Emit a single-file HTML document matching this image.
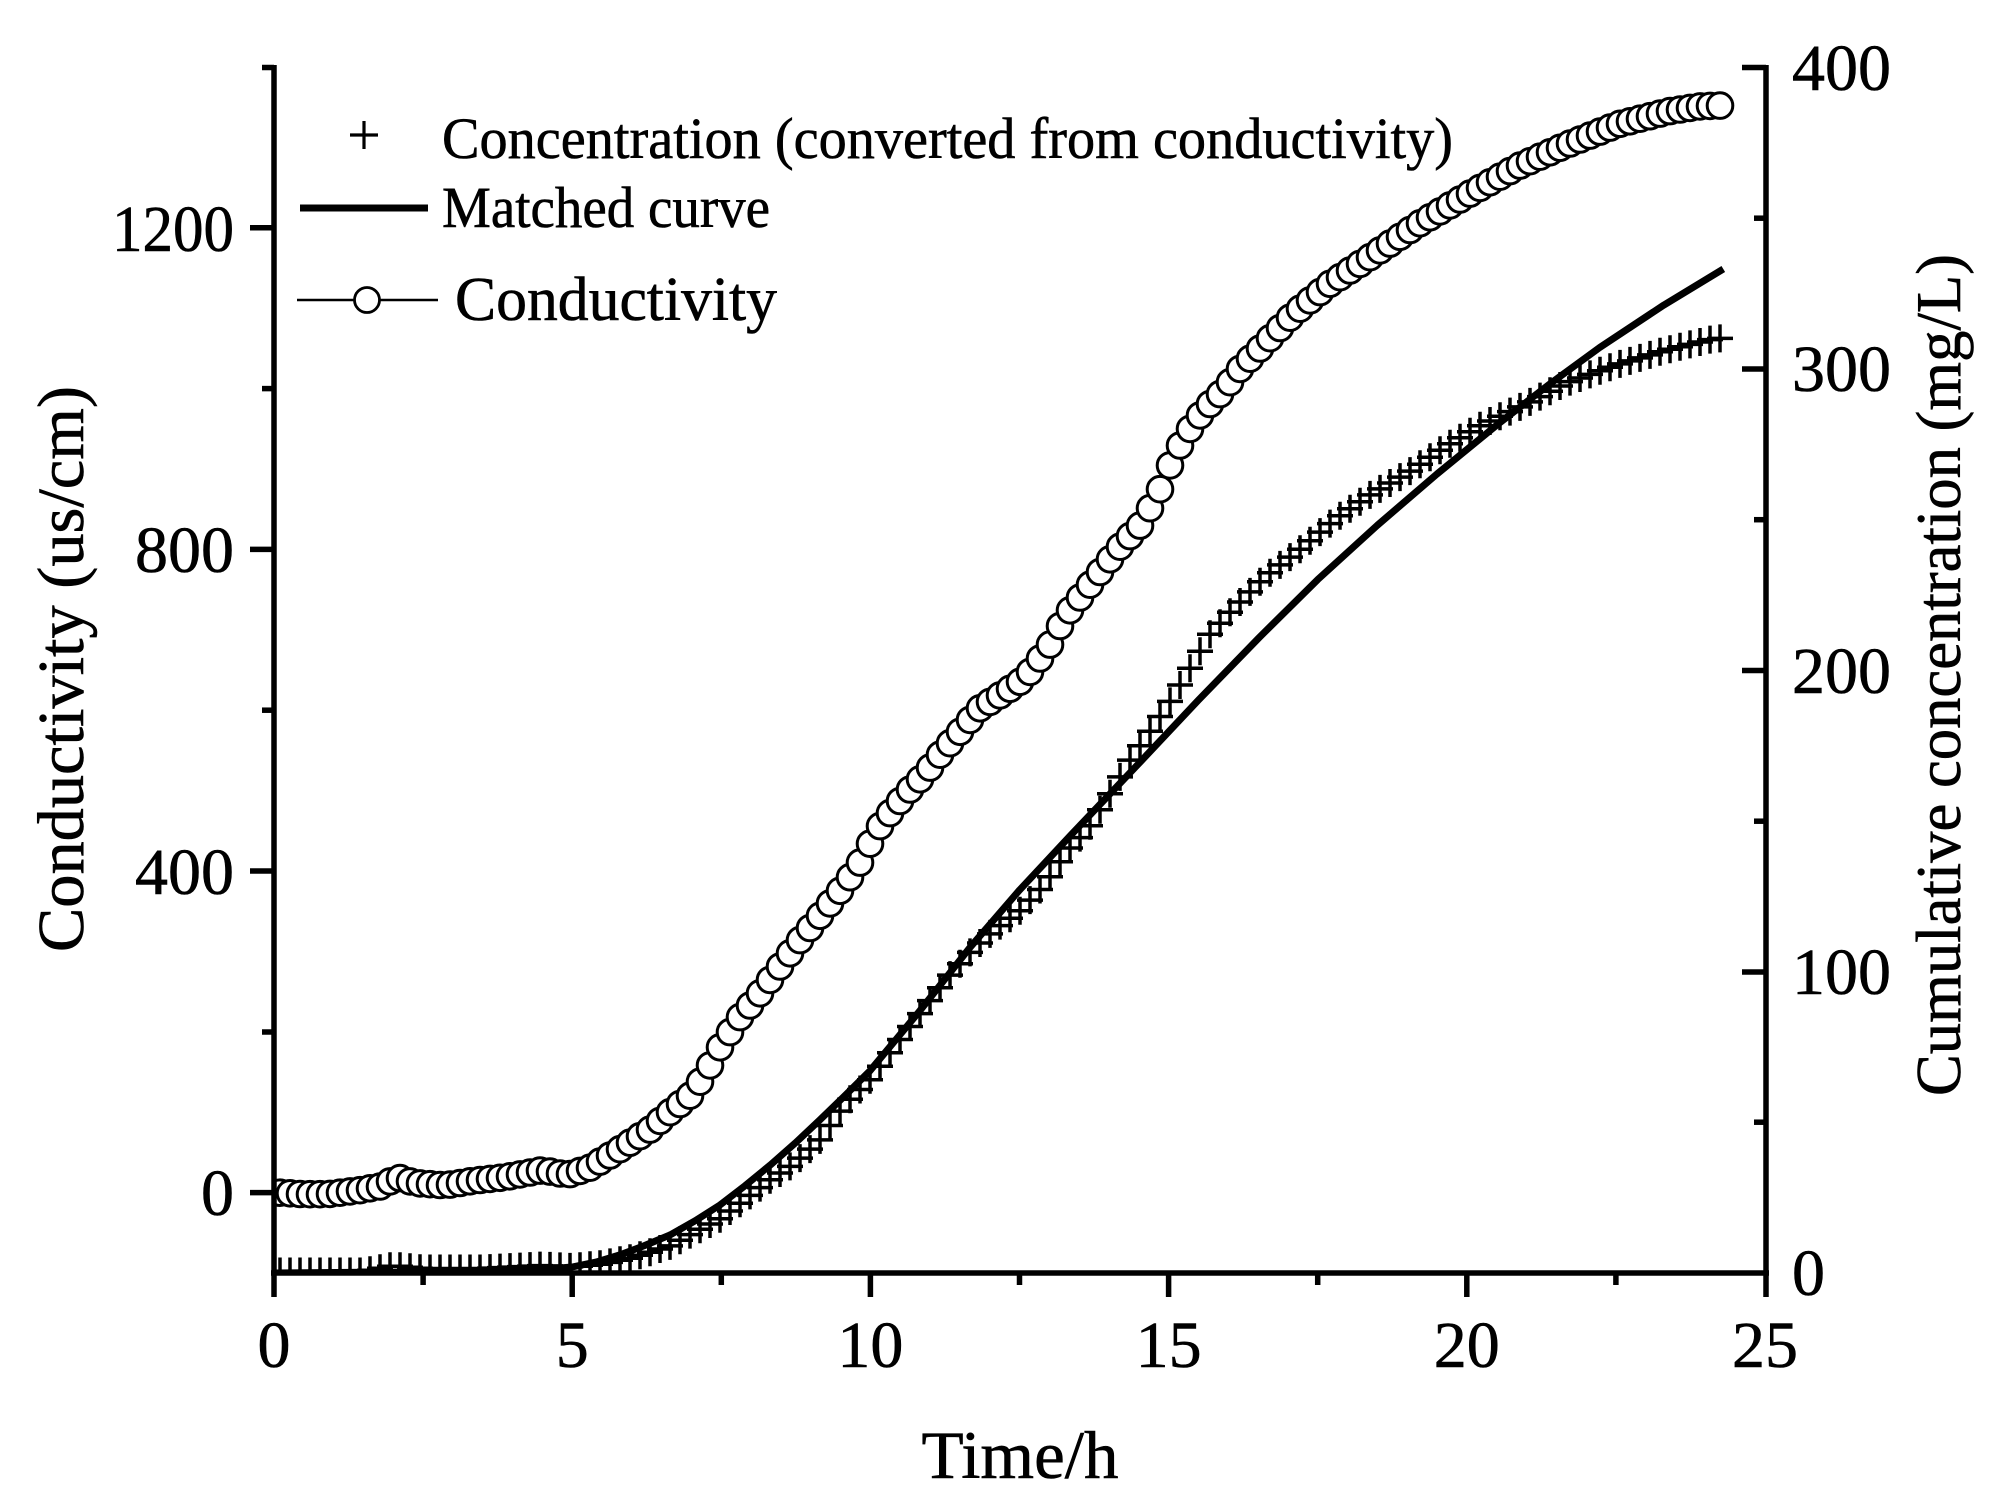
<!DOCTYPE html>
<html>
<head>
<meta charset="utf-8">
<style>
html,body{margin:0;padding:0;background:#fff;}
svg{display:block;}
text{font-family:"Liberation Serif","Times New Roman",serif;fill:#000;stroke:#000;stroke-width:0.6;}
</style>
</head>
<body>
<svg xmlns="http://www.w3.org/2000/svg" width="2001" height="1512" viewBox="0 0 2001 1512">
<rect x="0" y="0" width="2001" height="1512" fill="#fff"/>
<defs>
<clipPath id="plot"><rect x="274" y="67" width="1491" height="1206"/></clipPath>
</defs>

<g clip-path="url(#plot)">
<!-- crosses (right axis) -->
<path fill="none" stroke="#000" stroke-width="3.5" d="M267 1271.5h26m-13-14v28M277 1271.5h26m-13-14v28M287 1271.5h26m-13-14v28M297 1271.5h26m-13-14v28M307 1271.5h26m-13-14v28M317 1271.5h26m-13-14v28M327 1271.5h26m-13-14v28M337 1271.5h26m-13-14v28M347 1271.5h26m-13-14v28M357 1270.2h26m-13-14v28M367 1268.2h26m-13-14v28M377 1266.2h26m-13-14v28M387 1266.2h26m-13-14v28M397 1267.2h26m-13-14v28M407 1268.2h26m-13-14v28M417 1268.5h26m-13-14v28M427 1268.5h26m-13-14v28M437 1268.5h26m-13-14v28M447 1268.5h26m-13-14v28M457 1268.5h26m-13-14v28M467 1268.5h26m-13-14v28M477 1268.1h26m-13-14v28M487 1267.6h26m-13-14v28M497 1267.1h26m-13-14v28M507 1266.6h26m-13-14v28M517 1266.1h26m-13-14v28M527 1265.6h26m-13-14v28M537 1265.9h26m-13-14v28M547 1266.4h26m-13-14v28M557 1266.9h26m-13-14v28M567 1266.2h26m-13-14v28M577 1265.2h26m-13-14v28M587 1264.2h26m-13-14v28M597 1262.4h26m-13-14v28M607 1260.3h26m-13-14v28M617 1258.3h26m-13-14v28M627 1255.3h26m-13-14v28M637 1252.2h26m-13-14v28M647 1249.0h26m-13-14v28M657 1245.9h26m-13-14v28M667 1240.3h26m-13-14v28M677 1234.6h26m-13-14v28M687 1229.3h26m-13-14v28M697 1224.0h26m-13-14v28M707 1218.8h26m-13-14v28M717 1211.0h26m-13-14v28M727 1203.2h26m-13-14v28M737 1195.4h26m-13-14v28M747 1187.6h26m-13-14v28M757 1179.7h26m-13-14v28M767 1173.0h26m-13-14v28M777 1166.4h26m-13-14v28M787 1158.1h26m-13-14v28M797 1149.1h26m-13-14v28M807 1139.9h26m-13-14v28M817 1125.5h26m-13-14v28M827 1111.1h26m-13-14v28M837 1099.2h26m-13-14v28M847 1089.5h26m-13-14v28M857 1079.7h26m-13-14v28M867 1066.2h26m-13-14v28M877 1052.7h26m-13-14v28M887 1039.5h26m-13-14v28M897 1026.5h26m-13-14v28M907 1013.6h26m-13-14v28M917 1000.6h26m-13-14v28M927 987.7h26m-13-14v28M937 975.1h26m-13-14v28M947 963.8h26m-13-14v28M957 952.4h26m-13-14v28M967 943.0h26m-13-14v28M977 933.9h26m-13-14v28M987 925.6h26m-13-14v28M997 918.2h26m-13-14v28M1007 910.7h26m-13-14v28M1017 900.1h26m-13-14v28M1027 889.5h26m-13-14v28M1037 876.7h26m-13-14v28M1047 861.7h26m-13-14v28M1057 848.0h26m-13-14v28M1067 837.6h26m-13-14v28M1077 825.8h26m-13-14v28M1087 809.8h26m-13-14v28M1097 793.8h26m-13-14v28M1107 776.9h26m-13-14v28M1117 760.1h26m-13-14v28M1127 745.7h26m-13-14v28M1137 731.3h26m-13-14v28M1147 716.5h26m-13-14v28M1157 701.4h26m-13-14v28M1167 685.0h26m-13-14v28M1177 668.2h26m-13-14v28M1187 651.3h26m-13-14v28M1197 634.3h26m-13-14v28M1207 623.2h26m-13-14v28M1217 612.3h26m-13-14v28M1227 602.0h26m-13-14v28M1237 591.9h26m-13-14v28M1247 581.8h26m-13-14v28M1257 572.7h26m-13-14v28M1267 564.9h26m-13-14v28M1277 557.1h26m-13-14v28M1287 549.2h26m-13-14v28M1297 540.7h26m-13-14v28M1307 532.1h26m-13-14v28M1317 523.6h26m-13-14v28M1327 515.8h26m-13-14v28M1337 508.8h26m-13-14v28M1347 501.8h26m-13-14v28M1357 494.9h26m-13-14v28M1367 488.9h26m-13-14v28M1377 483.0h26m-13-14v28M1387 477.1h26m-13-14v28M1397 471.1h26m-13-14v28M1407 464.2h26m-13-14v28M1417 457.2h26m-13-14v28M1427 450.2h26m-13-14v28M1437 443.7h26m-13-14v28M1447 437.7h26m-13-14v28M1457 431.7h26m-13-14v28M1467 425.8h26m-13-14v28M1477 421.0h26m-13-14v28M1487 416.3h26m-13-14v28M1497 411.6h26m-13-14v28M1507 406.9h26m-13-14v28M1517 401.9h26m-13-14v28M1527 396.6h26m-13-14v28M1537 391.3h26m-13-14v28M1547 386.0h26m-13-14v28M1557 381.6h26m-13-14v28M1567 378.0h26m-13-14v28M1577 374.4h26m-13-14v28M1587 370.8h26m-13-14v28M1597 367.2h26m-13-14v28M1607 363.9h26m-13-14v28M1617 360.9h26m-13-14v28M1627 357.9h26m-13-14v28M1637 354.9h26m-13-14v28M1647 351.8h26m-13-14v28M1657 349.2h26m-13-14v28M1667 346.8h26m-13-14v28M1677 344.4h26m-13-14v28M1687 342.0h26m-13-14v28M1697 339.6h26m-13-14v28M1707 338.4h26m-13-14v28"/>

<!-- matched curve -->
<path fill="none" stroke="#000" stroke-width="7" stroke-linejoin="round" stroke-linecap="butt" d="M274 1273 L393.3 1272.1 L512.6 1270.6 L542.4 1269.4 L572.2 1267.0 L596.1 1262.1 L619.9 1254.9 L643.8 1245.9 L670.0 1235.0 L695.1 1220.8 L720.1 1204.9 L745.2 1185.6 L770.2 1165.1 L795.3 1143.0 L819.7 1120.1 L844.8 1095.7 L869.8 1071.0 L894.9 1040.8 L919.9 1010.7 L945.0 979.0 L970.0 947.4 L1019.5 890.1 L1070.2 835.8 L1138.8 763.5 L1198.4 700.1 L1259.8 636.9 L1317.7 579.6 L1377.3 525.3 L1437.0 474.0 L1499.6 422.8 L1550.3 383.6 L1599.8 347.4 L1663.6 305.2 L1723.3 269.0"/>

<!-- conductivity circles (left axis) -->
<g fill="#fff" stroke="#000" stroke-width="3">
<circle cx="280" cy="1192.7" r="12.8"/><circle cx="290" cy="1193.3" r="12.8"/><circle cx="300" cy="1194.0" r="12.8"/><circle cx="310" cy="1194.2" r="12.8"/><circle cx="320" cy="1194.2" r="12.8"/><circle cx="330" cy="1193.9" r="12.8"/><circle cx="340" cy="1192.7" r="12.8"/><circle cx="350" cy="1191.4" r="12.8"/><circle cx="360" cy="1190.2" r="12.8"/><circle cx="370" cy="1188.3" r="12.8"/>
<circle cx="380" cy="1186.5" r="12.8"/><circle cx="390" cy="1181.4" r="12.8"/><circle cx="400" cy="1178.1" r="12.8"/><circle cx="410" cy="1181.4" r="12.8"/><circle cx="420" cy="1183.4" r="12.8"/><circle cx="430" cy="1184.2" r="12.8"/><circle cx="440" cy="1185.0" r="12.8"/><circle cx="450" cy="1184.6" r="12.8"/><circle cx="460" cy="1183.0" r="12.8"/><circle cx="470" cy="1181.3" r="12.8"/>
<circle cx="480" cy="1180.0" r="12.8"/><circle cx="490" cy="1178.9" r="12.8"/><circle cx="500" cy="1177.8" r="12.8"/><circle cx="510" cy="1176.3" r="12.8"/><circle cx="520" cy="1174.4" r="12.8"/><circle cx="530" cy="1172.5" r="12.8"/><circle cx="540" cy="1170.6" r="12.8"/><circle cx="550" cy="1171.6" r="12.8"/><circle cx="560" cy="1173.5" r="12.8"/><circle cx="570" cy="1174.1" r="12.8"/>
<circle cx="580" cy="1170.9" r="12.8"/><circle cx="590" cy="1167.7" r="12.8"/><circle cx="600" cy="1161.6" r="12.8"/><circle cx="610" cy="1155.5" r="12.8"/><circle cx="620" cy="1149.2" r="12.8"/><circle cx="630" cy="1142.7" r="12.8"/><circle cx="640" cy="1136.2" r="12.8"/><circle cx="650" cy="1129.6" r="12.8"/><circle cx="660" cy="1120.9" r="12.8"/><circle cx="670" cy="1112.2" r="12.8"/>
<circle cx="680" cy="1104.0" r="12.8"/><circle cx="690" cy="1095.7" r="12.8"/><circle cx="700" cy="1081.7" r="12.8"/><circle cx="710" cy="1065.4" r="12.8"/><circle cx="720" cy="1047.3" r="12.8"/><circle cx="730" cy="1032.1" r="12.8"/><circle cx="740" cy="1017.1" r="12.8"/><circle cx="750" cy="1005.5" r="12.8"/><circle cx="760" cy="993.3" r="12.8"/><circle cx="770" cy="979.9" r="12.8"/>
<circle cx="780" cy="966.5" r="12.8"/><circle cx="790" cy="953.3" r="12.8"/><circle cx="800" cy="940.1" r="12.8"/><circle cx="810" cy="928.0" r="12.8"/><circle cx="820" cy="915.8" r="12.8"/><circle cx="830" cy="903.4" r="12.8"/><circle cx="840" cy="890.8" r="12.8"/><circle cx="850" cy="877.2" r="12.8"/><circle cx="860" cy="862.6" r="12.8"/><circle cx="870" cy="843.7" r="12.8"/>
<circle cx="880" cy="826.1" r="12.8"/><circle cx="890" cy="813.1" r="12.8"/><circle cx="900" cy="801.0" r="12.8"/><circle cx="910" cy="789.5" r="12.8"/><circle cx="920" cy="779.3" r="12.8"/><circle cx="930" cy="767.6" r="12.8"/><circle cx="940" cy="754.7" r="12.8"/><circle cx="950" cy="743.2" r="12.8"/><circle cx="960" cy="731.8" r="12.8"/><circle cx="970" cy="719.9" r="12.8"/>
<circle cx="980" cy="708.3" r="12.8"/><circle cx="990" cy="701.9" r="12.8"/><circle cx="1000" cy="695.4" r="12.8"/><circle cx="1010" cy="688.8" r="12.8"/><circle cx="1020" cy="681.8" r="12.8"/><circle cx="1030" cy="671.9" r="12.8"/><circle cx="1040" cy="658.5" r="12.8"/><circle cx="1050" cy="644.6" r="12.8"/><circle cx="1060" cy="626.0" r="12.8"/><circle cx="1070" cy="610.3" r="12.8"/>
<circle cx="1080" cy="597.5" r="12.8"/><circle cx="1090" cy="584.7" r="12.8"/><circle cx="1100" cy="572.0" r="12.8"/><circle cx="1110" cy="559.3" r="12.8"/><circle cx="1120" cy="546.7" r="12.8"/><circle cx="1130" cy="536.1" r="12.8"/><circle cx="1140" cy="525.6" r="12.8"/><circle cx="1150" cy="508.2" r="12.8"/><circle cx="1160" cy="489.2" r="12.8"/><circle cx="1170" cy="465.4" r="12.8"/>
<circle cx="1180" cy="445.5" r="12.8"/><circle cx="1190" cy="428.9" r="12.8"/><circle cx="1200" cy="415.4" r="12.8"/><circle cx="1210" cy="404.0" r="12.8"/><circle cx="1220" cy="394.1" r="12.8"/><circle cx="1230" cy="382.2" r="12.8"/><circle cx="1240" cy="368.9" r="12.8"/><circle cx="1250" cy="358.7" r="12.8"/><circle cx="1260" cy="348.5" r="12.8"/><circle cx="1270" cy="338.2" r="12.8"/>
<circle cx="1280" cy="328.0" r="12.8"/><circle cx="1290" cy="317.7" r="12.8"/><circle cx="1300" cy="308.7" r="12.8"/><circle cx="1310" cy="300.4" r="12.8"/><circle cx="1320" cy="292.1" r="12.8"/><circle cx="1330" cy="283.8" r="12.8"/><circle cx="1340" cy="277.2" r="12.8"/><circle cx="1350" cy="270.5" r="12.8"/><circle cx="1360" cy="263.9" r="12.8"/><circle cx="1370" cy="257.2" r="12.8"/>
<circle cx="1380" cy="250.4" r="12.8"/><circle cx="1390" cy="243.6" r="12.8"/><circle cx="1400" cy="236.8" r="12.8"/><circle cx="1410" cy="230.0" r="12.8"/><circle cx="1420" cy="223.3" r="12.8"/><circle cx="1430" cy="217.3" r="12.8"/><circle cx="1440" cy="211.4" r="12.8"/><circle cx="1450" cy="205.4" r="12.8"/><circle cx="1460" cy="199.5" r="12.8"/><circle cx="1470" cy="193.6" r="12.8"/>
<circle cx="1480" cy="187.9" r="12.8"/><circle cx="1490" cy="182.3" r="12.8"/><circle cx="1500" cy="176.7" r="12.8"/><circle cx="1510" cy="171.1" r="12.8"/><circle cx="1520" cy="165.6" r="12.8"/><circle cx="1530" cy="161.2" r="12.8"/><circle cx="1540" cy="156.7" r="12.8"/><circle cx="1550" cy="152.3" r="12.8"/><circle cx="1560" cy="147.8" r="12.8"/><circle cx="1570" cy="143.5" r="12.8"/>
<circle cx="1580" cy="139.5" r="12.8"/><circle cx="1590" cy="135.6" r="12.8"/><circle cx="1600" cy="131.6" r="12.8"/><circle cx="1610" cy="127.6" r="12.8"/><circle cx="1620" cy="123.8" r="12.8"/><circle cx="1630" cy="121.3" r="12.8"/><circle cx="1640" cy="118.7" r="12.8"/><circle cx="1650" cy="116.2" r="12.8"/><circle cx="1660" cy="113.6" r="12.8"/><circle cx="1670" cy="111.1" r="12.8"/>
<circle cx="1680" cy="109.5" r="12.8"/><circle cx="1690" cy="107.9" r="12.8"/><circle cx="1700" cy="106.4" r="12.8"/><circle cx="1710" cy="105.9" r="12.8"/><circle cx="1720" cy="105.6" r="12.8"/>
</g>
</g>

<!-- axes -->
<g stroke="#000" stroke-width="5.5" fill="none">
  <line x1="274" y1="65" x2="274" y2="1297"/>
  <line x1="1766" y1="65" x2="1766" y2="1297"/>
  <line x1="271" y1="1273" x2="1769" y2="1273"/>
  <line x1="250" y1="1192.6" x2="274" y2="1192.6"/>
  <line x1="250" y1="871.0" x2="274" y2="871.0"/>
  <line x1="250" y1="549.4" x2="274" y2="549.4"/>
  <line x1="250" y1="227.8" x2="274" y2="227.8"/>
  <line x1="262" y1="1032" x2="274" y2="1032"/>
  <line x1="262" y1="710.2" x2="274" y2="710.2"/>
  <line x1="262" y1="388.6" x2="274" y2="388.6"/>
  <line x1="262" y1="67.5" x2="274" y2="67.5"/>
  <line x1="572.2" y1="1273" x2="572.2" y2="1297"/>
  <line x1="870.4" y1="1273" x2="870.4" y2="1297"/>
  <line x1="1168.6" y1="1273" x2="1168.6" y2="1297"/>
  <line x1="1466.8" y1="1273" x2="1466.8" y2="1297"/>
  <line x1="423.1" y1="1273" x2="423.1" y2="1285"/>
  <line x1="721.3" y1="1273" x2="721.3" y2="1285"/>
  <line x1="1019.5" y1="1273" x2="1019.5" y2="1285"/>
  <line x1="1317.7" y1="1273" x2="1317.7" y2="1285"/>
  <line x1="1615.9" y1="1273" x2="1615.9" y2="1285"/>
  <line x1="1742" y1="67.5" x2="1766" y2="67.5"/>
  <line x1="1742" y1="369" x2="1766" y2="369"/>
  <line x1="1742" y1="670.5" x2="1766" y2="670.5"/>
  <line x1="1742" y1="972" x2="1766" y2="972"/>
  <line x1="1754" y1="218.2" x2="1766" y2="218.2"/>
  <line x1="1754" y1="519.7" x2="1766" y2="519.7"/>
  <line x1="1754" y1="821.2" x2="1766" y2="821.2"/>
  <line x1="1754" y1="1122.2" x2="1766" y2="1122.2"/>
</g>

<!-- left tick labels -->
<g font-size="66" text-anchor="end">
  <text x="234" y="1215">0</text>
  <text x="234" y="894">400</text>
  <text x="234" y="572">800</text>
  <text x="234" y="251" textLength="122" lengthAdjust="spacingAndGlyphs">1200</text>
</g>
<!-- bottom tick labels -->
<g font-size="66" text-anchor="middle">
  <text x="274" y="1367">0</text>
  <text x="572.2" y="1367">5</text>
  <text x="870.4" y="1367">10</text>
  <text x="1168.6" y="1367">15</text>
  <text x="1466.8" y="1367">20</text>
  <text x="1765" y="1367">25</text>
</g>
<!-- right tick labels -->
<g font-size="66" text-anchor="start">
  <text x="1792" y="1295">0</text>
  <text x="1792" y="994">100</text>
  <text x="1792" y="693">200</text>
  <text x="1792" y="391">300</text>
  <text x="1792" y="90">400</text>
</g>

<!-- axis titles -->
<text x="1020" y="1478" font-size="68" text-anchor="middle" textLength="197" lengthAdjust="spacingAndGlyphs">Time/h</text>
<text transform="translate(83,669) rotate(-90)" font-size="66" text-anchor="middle" textLength="566" lengthAdjust="spacingAndGlyphs">Conductivity (us/cm)</text>
<text transform="translate(1960,675) rotate(-90)" font-size="63" text-anchor="middle" textLength="842" lengthAdjust="spacingAndGlyphs">Cumulative concentration (mg/L)</text>

<!-- legend -->
<g stroke="#000" fill="none">
  <path d="M350 135 H378 M364 121 V149" stroke-width="3.2"/>
  <line x1="300" y1="208" x2="428" y2="208" stroke-width="7"/>
  <line x1="297" y1="300" x2="438" y2="300" stroke-width="2.5"/>
  <circle cx="367" cy="300" r="12.5" fill="#fff" stroke-width="2.8"/>
</g>
<text x="442" y="158" font-size="58" textLength="1011" lengthAdjust="spacingAndGlyphs">Concentration (converted from conductivity)</text>
<text x="442" y="227" font-size="58" textLength="328" lengthAdjust="spacingAndGlyphs">Matched curve</text>
<text x="455" y="320" font-size="62" textLength="322" lengthAdjust="spacingAndGlyphs">Conductivity</text>
</svg>
</body>
</html>
